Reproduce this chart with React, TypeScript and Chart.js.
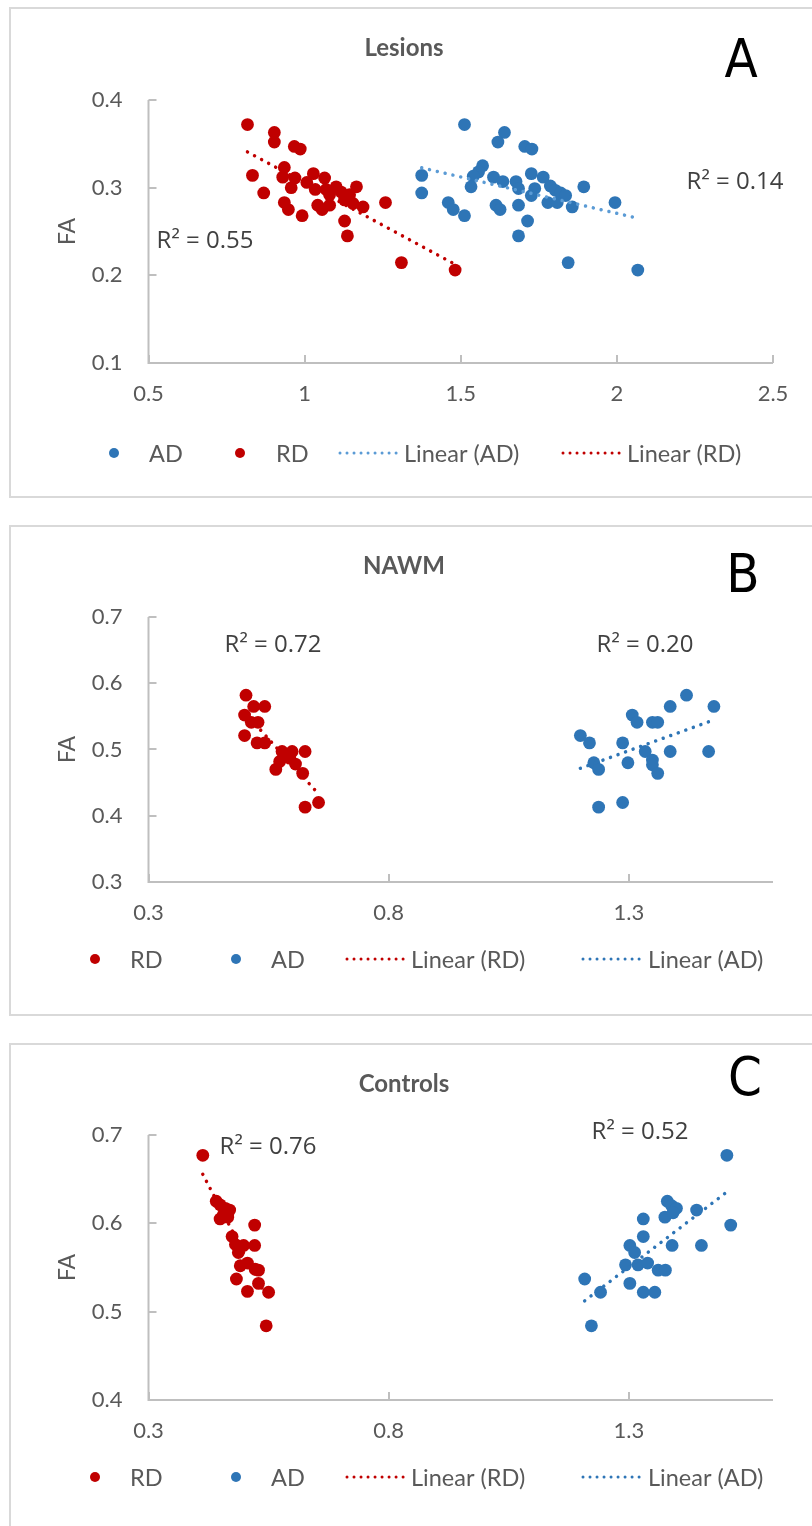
import { useEffect, useRef } from "react";
import { Chart, registerables } from "chart.js";

Chart.register(...registerables);

// ---------- data ----------
// Panel A: lesions
const lesionsAdX = [1.512, 1.64, 1.619, 1.705, 1.728, 1.375, 1.375, 1.57, 1.557, 1.54, 1.533, 1.605, 1.635, 1.677, 1.685, 1.726, 1.737, 1.726, 1.764, 1.787, 1.803, 1.82, 1.836, 1.779, 1.809, 1.857, 1.894, 1.994, 1.46, 1.476, 1.512, 1.613, 1.626, 1.685, 1.714, 1.685, 1.844, 2.067];
const lesionsAdFa = [0.372, 0.363, 0.352, 0.347, 0.344, 0.314, 0.294, 0.325, 0.318, 0.313, 0.301, 0.312, 0.307, 0.307, 0.299, 0.316, 0.299, 0.291, 0.312, 0.302, 0.297, 0.294, 0.291, 0.283, 0.283, 0.278, 0.301, 0.283, 0.283, 0.275, 0.268, 0.28, 0.275, 0.28, 0.262, 0.245, 0.2145, 0.206];
const lesionsRdX = [0.817, 0.903, 0.903, 0.967, 0.986, 0.833, 0.869, 0.935, 0.93, 0.969, 0.957, 0.935, 0.948, 0.992, 1.007, 1.028, 1.034, 1.064, 1.069, 1.042, 1.056, 1.08, 1.08, 1.101, 1.117, 1.128, 1.144, 1.166, 1.155, 1.187, 1.128, 1.137, 1.259, 1.31, 1.482];
const lesionsRdFa = [0.372, 0.363, 0.352, 0.347, 0.344, 0.314, 0.294, 0.323, 0.312, 0.311, 0.3, 0.283, 0.275, 0.268, 0.306, 0.316, 0.298, 0.311, 0.298, 0.28, 0.275, 0.292, 0.28, 0.301, 0.295, 0.286, 0.292, 0.301, 0.282, 0.278, 0.262, 0.245, 0.283, 0.2145, 0.206];
const lesionsXTicks = ["0.5", "1", "1.5", "2", "2.5"];
const lesionsYTicks = ["0.1", "0.2", "0.3", "0.4"];

// Panel B: normal-appearing white matter
const nawmRdX = [0.503, 0.519, 0.542, 0.5, 0.514, 0.528, 0.5, 0.526, 0.542, 0.578, 0.599, 0.626, 0.573, 0.594, 0.606, 0.565, 0.621, 0.654, 0.626];
const nawmRdFa = [0.582, 0.565, 0.565, 0.552, 0.541, 0.541, 0.521, 0.51, 0.51, 0.497, 0.497, 0.497, 0.482, 0.487, 0.478, 0.47, 0.464, 0.42, 0.413];
const nawmAdX = [1.42, 1.386, 1.477, 1.307, 1.317, 1.349, 1.36, 1.199, 1.218, 1.287, 1.334, 1.386, 1.466, 1.349, 1.227, 1.298, 1.349, 1.237, 1.36, 1.287, 1.237];
const nawmAdFa = [0.582, 0.565, 0.565, 0.552, 0.541, 0.541, 0.541, 0.521, 0.51, 0.51, 0.497, 0.497, 0.497, 0.484, 0.48, 0.48, 0.477, 0.47, 0.464, 0.42, 0.413];
const nawmXTicks = ["0.3", "0.8", "1.3"];
const nawmYTicks = ["0.3", "0.4", "0.5", "0.6", "0.7"];

// Panel C: controls
const controlsRdX = [0.413, 0.441, 0.449, 0.46, 0.469, 0.456, 0.449, 0.465, 0.521, 0.474, 0.481, 0.498, 0.521, 0.487, 0.491, 0.506, 0.522, 0.529, 0.483, 0.529, 0.506, 0.55, 0.545];
const controlsRdFa = [0.677, 0.625, 0.621, 0.617, 0.615, 0.61, 0.605, 0.607, 0.598, 0.585, 0.576, 0.575, 0.575, 0.567, 0.552, 0.555, 0.548, 0.547, 0.537, 0.532, 0.523, 0.522, 0.484];
const controlsAdX = [1.504, 1.38, 1.389, 1.399, 1.441, 1.375, 1.392, 1.33, 1.512, 1.33, 1.302, 1.312, 1.39, 1.451, 1.293, 1.319, 1.339, 1.361, 1.376, 1.208, 1.302, 1.241, 1.33, 1.354, 1.222];
const controlsAdFa = [0.677, 0.625, 0.62, 0.617, 0.615, 0.607, 0.612, 0.605, 0.598, 0.585, 0.575, 0.567, 0.575, 0.575, 0.553, 0.553, 0.555, 0.547, 0.547, 0.537, 0.532, 0.522, 0.522, 0.522, 0.484];
const controlsXTicks = ["0.3", "0.8", "1.3"];
const controlsYTicks = ["0.4", "0.5", "0.6", "0.7"];

// ---------- styles ----------
const RED = "#c00000";
const BLUE = "#2e75b6";
const BLUE_LIGHT = "#5b9bd5";
const TEXT = "#595959";
const AXIS = "#bfbfbf";
const FONT = "Lato, 'Open Sans', sans-serif";

const BOX_LEFT = 9;
const BOX_H = 491;
const BORDER = 2;
const CANVAS_W = 812 - BOX_LEFT - BORDER;
const CANVAS_H = BOX_H - 2 * BORDER;
const PLOT_LEFT = 148.5; // page x of the value axis
const PLOT_RIGHT = 773;

type Series = { label: string; xs: number[]; ys: number[]; color: string; trendColor: string };
type LegendItem = { kind: "dot" | "line"; color: string; x1: number; x2?: number; textX: number; text: string };

type PanelSpec = {
  top: number; // page y of the box
  plotTop: number; // page y of the top of the plot area
  plotBottom: number;
  title: string;
  letter: string;
  letterPos: [number, number];
  xMin: number;
  xMax: number;
  yMin: number;
  yMax: number;
  xTicks: string[];
  yTicks: string[];
  series: Series[];
  r2: { text: string; x: number; y: number }[];
  legendY: number;
  legend: LegendItem[];
};

const panels: PanelSpec[] = [
  {
    top: 7,
    plotTop: 100,
    plotBottom: 363,
    title: "Lesions",
    letter: "A",
    letterPos: [741, 63],
    xMin: 0.5,
    xMax: 2.5,
    yMin: 0.1,
    yMax: 0.4,
    xTicks: lesionsXTicks,
    yTicks: lesionsYTicks,
    series: [
      { label: "AD", xs: lesionsAdX, ys: lesionsAdFa, color: BLUE, trendColor: BLUE_LIGHT },
      { label: "RD", xs: lesionsRdX, ys: lesionsRdFa, color: RED, trendColor: RED },
    ],
    r2: [
      { text: "R² = 0.55", x: 205, y: 241 },
      { text: "R² = 0.14", x: 735, y: 182 },
    ],
    legendY: 453,
    legend: [
      { kind: "dot", color: BLUE, x1: 114, textX: 149, text: "AD" },
      { kind: "dot", color: RED, x1: 240, textX: 276, text: "RD" },
      { kind: "line", color: BLUE_LIGHT, x1: 340, x2: 397, textX: 404, text: "Linear (AD)" },
      { kind: "line", color: RED, x1: 563, x2: 620, textX: 627, text: "Linear (RD)" },
    ],
  },
  {
    top: 525,
    plotTop: 617,
    plotBottom: 882,
    title: "NAWM",
    letter: "B",
    letterPos: [743, 578],
    xMin: 0.3,
    xMax: 1.6,
    yMin: 0.3,
    yMax: 0.7,
    xTicks: nawmXTicks,
    yTicks: nawmYTicks,
    series: [
      { label: "RD", xs: nawmRdX, ys: nawmRdFa, color: RED, trendColor: RED },
      { label: "AD", xs: nawmAdX, ys: nawmAdFa, color: BLUE, trendColor: BLUE },
    ],
    r2: [
      { text: "R² = 0.72", x: 273, y: 645 },
      { text: "R² = 0.20", x: 645, y: 645 },
    ],
    legendY: 959,
    legend: [
      { kind: "dot", color: RED, x1: 95, textX: 130, text: "RD" },
      { kind: "dot", color: BLUE, x1: 236, textX: 271, text: "AD" },
      { kind: "line", color: RED, x1: 347, x2: 404, textX: 411, text: "Linear (RD)" },
      { kind: "line", color: BLUE, x1: 583, x2: 640, textX: 648, text: "Linear (AD)" },
    ],
  },
  {
    top: 1043,
    plotTop: 1135,
    plotBottom: 1400,
    title: "Controls",
    letter: "C",
    letterPos: [745, 1081],
    xMin: 0.3,
    xMax: 1.6,
    yMin: 0.4,
    yMax: 0.7,
    xTicks: controlsXTicks,
    yTicks: controlsYTicks,
    series: [
      { label: "RD", xs: controlsRdX, ys: controlsRdFa, color: RED, trendColor: RED },
      { label: "AD", xs: controlsAdX, ys: controlsAdFa, color: BLUE, trendColor: BLUE },
    ],
    r2: [
      { text: "R² = 0.76", x: 268, y: 1147 },
      { text: "R² = 0.52", x: 640, y: 1132 },
    ],
    legendY: 1477,
    legend: [
      { kind: "dot", color: RED, x1: 95, textX: 130, text: "RD" },
      { kind: "dot", color: BLUE, x1: 236, textX: 271, text: "AD" },
      { kind: "line", color: RED, x1: 347, x2: 404, textX: 411, text: "Linear (RD)" },
      { kind: "line", color: BLUE, x1: 583, x2: 640, textX: 648, text: "Linear (AD)" },
    ],
  },
];

// Ordinary least-squares line across the range of the series.
function linearTrend(xs: number[], ys: number[]) {
  const n = xs.length;
  const mx = xs.reduce((a, b) => a + b, 0) / n;
  const my = ys.reduce((a, b) => a + b, 0) / n;
  let sxy = 0;
  let sxx = 0;
  for (let i = 0; i < n; i++) {
    sxy += (xs[i] - mx) * (ys[i] - my);
    sxx += (xs[i] - mx) * (xs[i] - mx);
  }
  const slope = sxy / sxx;
  const x0 = Math.min(...xs);
  const x1 = Math.max(...xs);
  return [
    { x: x0, y: my + slope * (x0 - mx) },
    { x: x1, y: my + slope * (x1 - mx) },
  ];
}

function ScatterPanel({ spec }: { spec: PanelSpec }) {
  const ref = useRef<HTMLCanvasElement | null>(null);

  useEffect(() => {
    if (!ref.current) return;
    const canvasTop = spec.top + BORDER;
    const canvasLeft = BOX_LEFT + BORDER;
    const px = (x: number) => x - canvasLeft;
    const py = (y: number) => y - canvasTop;
    const X_AXIS_H = 40;

    const datasets: any[] = [];
    spec.series.forEach((s) => {
      datasets.push({
        type: "line",
        label: `Linear (${s.label})`,
        data: linearTrend(s.xs, s.ys),
        borderColor: s.trendColor,
        borderWidth: 3.5,
        borderDash: [0.01, 8],
        borderCapStyle: "round",
        pointRadius: 0,
        fill: false,
        showLine: true,
        order: 0,
      });
    });
    spec.series.forEach((s) => {
      datasets.push({
        type: "scatter",
        label: s.label,
        data: s.xs.map((x, i) => ({ x, y: s.ys[i] })),
        backgroundColor: s.color,
        borderColor: s.color,
        pointRadius: 6.4,
        pointBorderWidth: 0,
        order: 1,
      });
    });

    const tickFont = { family: FONT, size: 22 };

    const frame = {
      id: "frame",
      beforeDatasetsDraw(chart: any) {
        const { ctx, chartArea } = chart;
        const { left, right, top, bottom } = chartArea;
        const xs = chart.scales.x;
        const ys = chart.scales.y;
        ctx.save();
        ctx.strokeStyle = AXIS;
        ctx.lineWidth = 2;
        ctx.beginPath();
        ctx.moveTo(left, top);
        ctx.lineTo(left, bottom);
        ctx.lineTo(right, bottom);
        ys.ticks.forEach((t: any) => {
          const yy = Math.round(ys.getPixelForValue(t.value));
          ctx.moveTo(left, yy);
          ctx.lineTo(left + 8, yy);
        });
        xs.ticks.forEach((t: any) => {
          const xx = Math.round(xs.getPixelForValue(t.value));
          ctx.moveTo(xx, bottom);
          ctx.lineTo(xx, bottom - 8);
        });
        ctx.stroke();
        ctx.restore();
      },
      afterDraw(chart: any) {
        const { ctx, chartArea } = chart;
        ctx.save();
        ctx.textBaseline = "middle";

        // title
        ctx.fillStyle = TEXT;
        ctx.textAlign = "center";
        ctx.font = `bold 24px ${FONT}`;
        ctx.fillText(spec.title, px(404), py(spec.top + 41));

        // panel letter
        ctx.fillStyle = "#000";
        ctx.font = `54px 'Liberation Sans Narrow', 'DejaVu Sans Condensed', sans-serif`;
        ctx.fillText(spec.letter, px(spec.letterPos[0]), py(spec.letterPos[1]));

        // value axis title
        ctx.fillStyle = TEXT;
        ctx.font = `23px ${FONT}`;
        ctx.save();
        ctx.translate(px(68), (chartArea.top + chartArea.bottom) / 2);
        ctx.rotate(-Math.PI / 2);
        ctx.fillText("FA", 0, 0);
        ctx.restore();

        // R² labels
        ctx.fillStyle = "#404040";
        ctx.font = `24px 'Open Sans', ${FONT}`;
        spec.r2.forEach((r) => ctx.fillText(r.text, px(r.x), py(r.y)));

        // legend
        ctx.textAlign = "left";
        ctx.font = `23.5px ${FONT}`;
        const ly = py(spec.legendY);
        spec.legend.forEach((item) => {
          if (item.kind === "dot") {
            ctx.fillStyle = item.color;
            ctx.beginPath();
            ctx.arc(px(item.x1), ly, 5, 0, Math.PI * 2);
            ctx.fill();
          } else {
            ctx.save();
            ctx.strokeStyle = item.color;
            ctx.lineCap = "round";
            ctx.lineWidth = 3;
            ctx.setLineDash([0.01, 7]);
            ctx.beginPath();
            ctx.moveTo(px(item.x1), ly);
            ctx.lineTo(px(item.x2 as number), ly);
            ctx.stroke();
            ctx.restore();
          }
          ctx.fillStyle = TEXT;
          ctx.fillText(item.text, px(item.textX), ly + 1);
        });
        ctx.restore();
      },
    };

    const chart = new Chart(ref.current, {
      type: "scatter",
      data: { datasets },
      options: {
        animation: false,
        responsive: false,
        maintainAspectRatio: false,
        devicePixelRatio: 1,
        layout: {
          padding: {
            left: 0,
            top: py(spec.plotTop),
            right: CANVAS_W - px(PLOT_RIGHT),
            bottom: CANVAS_H - py(spec.plotBottom) - X_AXIS_H,
          },
        },
        plugins: {
          legend: { display: false },
          title: { display: false },
          tooltip: { enabled: false },
        },
        scales: {
          x: {
            type: "linear",
            min: spec.xMin,
            max: spec.xMax,
            afterBuildTicks: (s: any) => {
              s.ticks = spec.xTicks.map((t) => ({ value: parseFloat(t) }));
            },
            afterFit: (s: any) => {
              s.height = X_AXIS_H;
            },
            grid: { display: false, drawTicks: false },
            border: { display: false },
            ticks: {
              autoSkip: false,
              maxRotation: 0,
              padding: 18,
              color: TEXT,
              font: tickFont,
              callback: (_v: any, i: number) => spec.xTicks[i],
            },
          },
          y: {
            type: "linear",
            min: spec.yMin,
            max: spec.yMax,
            afterBuildTicks: (s: any) => {
              s.ticks = spec.yTicks.map((t) => ({ value: parseFloat(t) }));
            },
            afterFit: (s: any) => {
              s.width = px(PLOT_LEFT);
            },
            grid: { display: false, drawTicks: false },
            border: { display: false },
            ticks: {
              autoSkip: false,
              padding: 26,
              color: TEXT,
              font: tickFont,
              callback: (_v: any, i: number) => spec.yTicks[i],
            },
          },
        },
      },
      plugins: [frame],
    });
    return () => chart.destroy();
  }, [spec]);

  return (
    <div
      style={{
        position: "absolute",
        left: BOX_LEFT,
        top: spec.top,
        width: 812 - BOX_LEFT + 20,
        height: BOX_H,
        boxSizing: "border-box",
        border: `${BORDER}px solid #d9d9d9`,
        background: "#fff",
      }}
    >
      <canvas ref={ref} width={CANVAS_W} height={CANVAS_H} style={{ display: "block", width: CANVAS_W, height: CANVAS_H }} />
    </div>
  );
}

export default function App() {
  return (
    <div
      style={{
        position: "absolute",
        left: 0,
        top: 0,
        width: 812,
        height: 1526,
        overflow: "hidden",
        background: "#fff",
      }}
    >
      {panels.map((p) => (
        <ScatterPanel key={p.title} spec={p} />
      ))}
    </div>
  );
}
